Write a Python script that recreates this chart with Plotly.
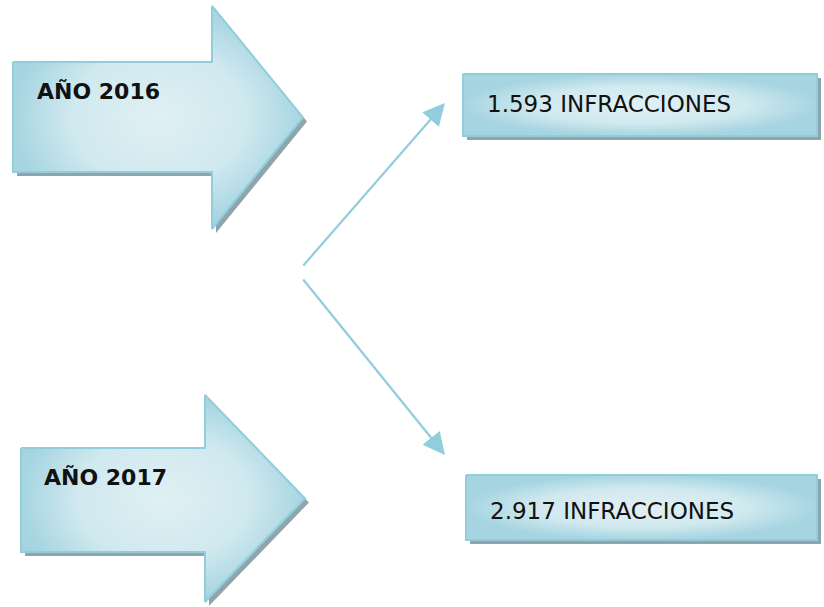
import plotly.graph_objects as go

# Data
years = ["AÑO 2016", "AÑO 2017"]
infracciones = [1593, 2917]

# Layout geometry (pixel coordinates, y grows downward)
arrow_boxes = [
    dict(left=13, top=62, bottom=172, head_x=212, head_top=6, head_bottom=229, tip_x=303),
    dict(left=21, top=448, bottom=552, head_x=205, head_top=395, head_bottom=602, tip_x=305),
]
result_boxes = [
    dict(left=463, top=74, right=817, bottom=136),
    dict(left=466, top=475, right=817, bottom=540),
]
year_text_pos = [(35, 91), (42, 477)]
result_text_pos = [(485, 104), (488, 511)]
connectors = [((302, 267), (445, 103)), ((302, 278), (445, 455))]

EDGE = "#92cddc"
SHADOW = "#8fa5ab"
GRADIENT = [[0, "#e0f0f4"], [0.6, "#d0e9ef"], [1, "#a6d5e1"]]
SHADOW_OFF = 4


def arrow_path(a):
    tip_y = (a["head_top"] + a["head_bottom"]) / 2
    xs = [a["left"], a["head_x"], a["head_x"], a["tip_x"], a["head_x"], a["head_x"], a["left"], a["left"]]
    ys = [a["top"], a["top"], a["head_top"], tip_y, a["head_bottom"], a["bottom"], a["bottom"], a["top"]]
    return xs, ys


def rect_path(b):
    xs = [b["left"], b["right"], b["right"], b["left"], b["left"]]
    ys = [b["top"], b["top"], b["bottom"], b["bottom"], b["top"]]
    return xs, ys


fig = go.Figure()


def add_shape_trace(xs, ys):
    # shadow
    fig.add_trace(go.Scatter(
        x=[x + SHADOW_OFF for x in xs],
        y=[y + SHADOW_OFF for y in ys],
        mode="lines", fill="toself",
        fillcolor=SHADOW, line=dict(width=0, color=SHADOW),
        hoverinfo="skip", showlegend=False,
    ))
    # gradient body
    fig.add_trace(go.Scatter(
        x=xs, y=ys,
        mode="lines", fill="toself",
        fillgradient=dict(type="radial", colorscale=GRADIENT),
        line=dict(width=2, color=EDGE),
        hoverinfo="skip", showlegend=False,
    ))


for a in arrow_boxes:
    add_shape_trace(*arrow_path(a))

for b in result_boxes:
    add_shape_trace(*rect_path(b))

# Year labels
for label, (x, y) in zip(years, year_text_pos):
    fig.add_annotation(
        x=x, y=y, text=f"<b>{label}</b>", showarrow=False,
        xanchor="left", yanchor="middle",
        font=dict(family="DejaVu Sans", size=22, color="#111111"),
    )

# Result labels
for value, (x, y) in zip(infracciones, result_text_pos):
    txt = f"{value:,}".replace(",", ".") + " INFRACCIONES"
    fig.add_annotation(
        x=x, y=y, text=txt, showarrow=False,
        xanchor="left", yanchor="middle",
        font=dict(family="DejaVu Sans", size=23, color="#111111"),
    )

# Connector arrows
for (tail, head) in connectors:
    fig.add_annotation(
        x=head[0], y=head[1], ax=tail[0], ay=tail[1],
        xref="x", yref="y", axref="x", ayref="y",
        text="", showarrow=True,
        arrowhead=2, arrowsize=2, arrowwidth=2.2, arrowcolor=EDGE,
    )

fig.update_xaxes(range=[0, 824], visible=False, fixedrange=True)
fig.update_yaxes(range=[607, 0], visible=False, fixedrange=True)

fig.update_layout(
    width=824, height=607,
    margin=dict(l=0, r=0, t=0, b=0),
    paper_bgcolor="white", plot_bgcolor="white",
    showlegend=False,
)

# drop the default page margin so the figure sits at the window corner
fig.write_html(
    "out.html",
    config={"displayModeBar": False},
    post_script="document.body.style.margin='0';document.body.style.overflow='hidden';",
)
